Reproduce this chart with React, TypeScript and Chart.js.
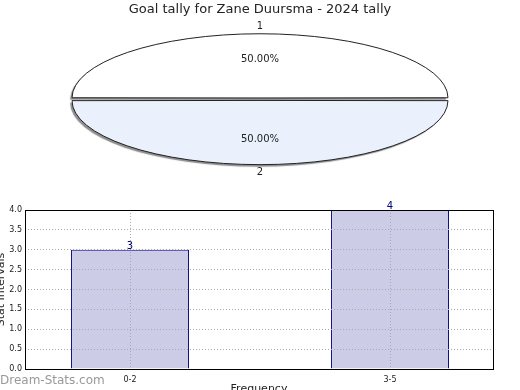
import React, { useEffect, useRef } from 'react';
import { Chart, registerables } from 'chart.js';

Chart.register(...registerables);

// ---- data ----
const chartTitle = 'Goal tally for Zane Duursma - 2024 tally';
const pieLabels = ['1', '2'];
const pieValues = [1, 1];
const pieColors = ['#ffffff', '#eaf0fc'];

const barCategories = ['0-2', '3-5'];
const barValues = [3, 4];
const yMin = 0;
const yMax = 4;
const yStep = 0.5;
const yAxisTitle = 'Stat Intervals';
const xAxisTitle = 'Frequency';
const watermark = 'Dream-Stats.com';

// ---- style ----
const FONT = "'DejaVu Sans', sans-serif";
const FLAT = 0.3415; // vertical squash of the pie (ellipse)
const OUTER_GAP = 6.5;

Chart.defaults.font.family = FONT;

const ellipsePlugin = {
  id: 'ellipsePie',
  beforeDatasetsDraw(chart: any) {
    const ctx = chart.ctx as any;
    const arc = chart.getDatasetMeta(0).data[0];
    const cx = arc.x;
    const cy = arc.y;
    ctx.save();
    const base = ctx.getTransform();
    ctx.translate(cx, cy);
    ctx.scale(1, FLAT);
    ctx.translate(-cx, -cy);
    ctx.shadowColor = 'rgba(0,0,0,0.45)';
    ctx.shadowOffsetX = -2;
    ctx.shadowOffsetY = 2;
    ctx.shadowBlur = 1;
    const proto = CanvasRenderingContext2D.prototype.stroke;
    ctx.stroke = function (...args: any[]) {
      this.save();
      this.setTransform(base);
      this.shadowColor = 'rgba(0,0,0,0)';
      proto.apply(this, args);
      this.restore();
    };
  },
  afterDatasetsDraw(chart: any) {
    const ctx = chart.ctx as any;
    delete ctx.stroke;
    ctx.restore();
    const meta = chart.getDatasetMeta(0);
    const values: number[] = chart.data.datasets[0].data;
    const labels: string[] = chart.data.labels;
    const total = values.reduce((a, b) => a + b, 0);
    ctx.save();
    ctx.fillStyle = '#222';
    ctx.font = `10px ${FONT}`;
    ctx.textAlign = 'center';
    ctx.textBaseline = 'middle';
    meta.data.forEach((arc: any, i: number) => {
      const mid = (arc.startAngle + arc.endAngle) / 2;
      const circ = arc.endAngle - arc.startAngle;
      const off = (arc.options.offset || 0) / 4;
      const t = off * (1 + (1 - Math.sin(Math.min(Math.PI, circ))));
      const R = arc.outerRadius + off;
      const c = Math.cos(mid);
      const s = Math.sin(mid);
      const pct = ((values[i] / total) * 100).toFixed(2) + '%';
      const ri = R * 0.58 + t;
      ctx.fillText(pct, arc.x + c * ri, arc.y + s * ri * FLAT);
      const ro = R + t;
      ctx.fillText(labels[i], arc.x + c * (ro + OUTER_GAP), arc.y + s * (ro * FLAT + OUTER_GAP));
    });
    ctx.restore();
  },
};

const barDecor = {
  id: 'barDecor',
  afterDraw(chart: any) {
    const { ctx, chartArea: a } = chart;
    ctx.save();
    const meta = chart.getDatasetMeta(0);
    ctx.font = `10px ${FONT}`;
    ctx.fillStyle = '#000080';
    ctx.textAlign = 'center';
    ctx.textBaseline = 'alphabetic';
    meta.data.forEach((bar: any, i: number) => {
      ctx.fillText(String(barValues[i]), bar.x, bar.y - 1);
    });
    ctx.strokeStyle = '#000';
    ctx.lineWidth = 1;
    ctx.strokeRect(a.left + 0.5, a.top + 0.5, a.right - a.left, a.bottom - a.top);
    ctx.restore();
  },
};

function PieChart() {
  const ref = useRef<HTMLCanvasElement>(null);
  useEffect(() => {
    const chart = new Chart(ref.current as HTMLCanvasElement, {
      type: 'pie',
      data: {
        labels: pieLabels,
        datasets: [
          {
            data: pieValues,
            backgroundColor: pieColors,
            borderColor: '#222',
            borderWidth: 1,
            offset: 14.6,
            clip: false,
          } as any,
        ],
      },
      options: {
        responsive: false,
        maintainAspectRatio: false,
        animation: false,
        events: [],
        rotation: -90,
        radius: 184.35,
        layout: { padding: { top: 0, bottom: 9.2, left: 0, right: 0 } },
        plugins: {
          legend: { display: false },
          tooltip: { enabled: false },
          title: {
            display: true,
            text: chartTitle,
            color: '#222',
            font: { size: 13, weight: 'normal', family: FONT },
            padding: { top: 2, bottom: 0 },
          },
        },
      } as any,
      plugins: [ellipsePlugin],
    });
    return () => chart.destroy();
  }, []);
  return (
    <canvas
      ref={ref}
      width={520}
      height={190}
      style={{ position: 'absolute', left: 0, top: 0, width: 520, height: 190 }}
    />
  );
}

function BarChart() {
  const ref = useRef<HTMLCanvasElement>(null);
  useEffect(() => {
    const chart = new Chart(ref.current as HTMLCanvasElement, {
      type: 'bar',
      data: {
        datasets: [
          {
            data: barValues.map((v, i) => ({ x: i, y: v })),
            backgroundColor: '#ccccE6',
            borderColor: '#000080',
            borderWidth: 1,
            categoryPercentage: 1,
            barPercentage: 0.4538,
          } as any,
        ],
      },
      options: {
        responsive: false,
        maintainAspectRatio: false,
        animation: false,
        events: [],
        layout: { padding: { top: 20, right: 27, bottom: 0, left: 0 } },
        plugins: { legend: { display: false }, tooltip: { enabled: false } },
        scales: {
          x: {
            type: 'linear',
            offset: false,
            min: -0.404,
            max: 1.396,
            afterBuildTicks: (axis: any) => {
              axis.ticks = barCategories.map((_, i) => ({ value: i }));
            },
            afterFit: (axis: any) => {
              axis.height = 31;
            },
            ticks: {
              callback: (v: any) => barCategories[v] ?? '',
              font: { size: 8, family: FONT },
              color: '#222',
              padding: 6,
              maxRotation: 0,
              autoSkip: false,
            },
            grid: { color: '#aaa', lineWidth: 1, drawTicks: false, offset: false, z: 1 },
            border: { display: false, dash: [1, 2] },
            title: {
              display: true,
              text: xAxisTitle,
              color: '#222',
              font: { size: 11, family: FONT },
              padding: { top: 0, bottom: 4 },
            },
          },
          y: {
            min: yMin,
            max: yMax,
            afterFit: (axis: any) => {
              axis.width = 31;
            },
            ticks: {
              stepSize: yStep,
              callback: (v: any) => Number(v).toFixed(1),
              font: { size: 8, family: FONT },
              color: '#222',
              padding: 3,
            },
            grid: { color: '#aaa', lineWidth: 1, drawTicks: false, z: 1 },
            border: { display: false, dash: [1, 2] },
            title: {
              display: true,
              text: yAxisTitle,
              color: '#222',
              font: { size: 11, family: FONT },
              padding: { top: 1, bottom: 0 },
            },
          },
        },
      } as any,
      plugins: [barDecor],
    });
    return () => chart.destroy();
  }, []);
  return (
    <canvas
      ref={ref}
      width={526}
      height={210}
      style={{ position: 'absolute', left: -6, top: 190, width: 526, height: 210 }}
    />
  );
}

export default function App() {
  return (
    <div
      style={{
        position: 'absolute',
        left: 0,
        top: 0,
        width: 520,
        height: 390,
        overflow: 'hidden',
        background: '#fff',
      }}
    >
      <PieChart />
      <BarChart />
      <div
        style={{
          position: 'absolute',
          left: 0,
          top: 373,
          font: `12px ${FONT}`,
          color: '#999',
          whiteSpace: 'nowrap',
        }}
      >
        {watermark}
      </div>
    </div>
  );
}
